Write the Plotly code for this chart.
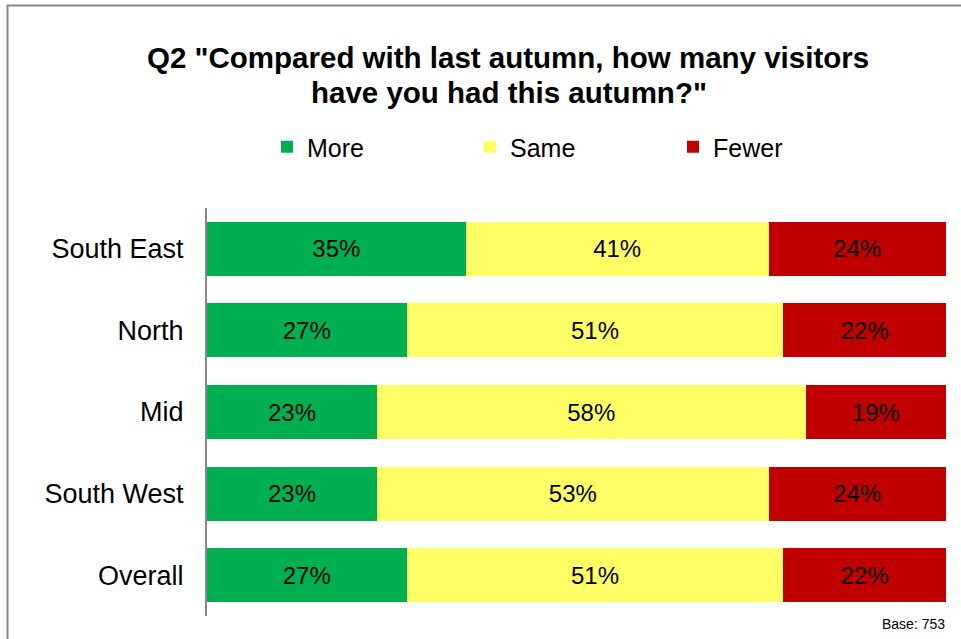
import plotly.graph_objects as go

# Survey results: share of respondents per region (percent)
regions = ["South East", "North", "Mid", "South West", "Overall"]
more = [35, 27, 23, 23, 27]
same = [41, 51, 58, 53, 51]
fewer = [24, 22, 19, 24, 22]

series = [
    ("More", more, "#00B050"),
    ("Same", same, "#FFFF66"),
    ("Fewer", fewer, "#C00000"),
]

FONT = "Liberation Sans, Arial, sans-serif"

fig = go.Figure()
for name, vals, color in series:
    fig.add_trace(go.Bar(
        name=name,
        y=regions,
        x=vals,
        orientation="h",
        marker=dict(color=color, line=dict(width=0)),
        text=[f"{v}%" for v in vals],
        textposition="inside",
        insidetextanchor="middle",
        textangle=0,
        textfont=dict(family=FONT, size=24, color="black"),
        hoverinfo="skip",
    ))

W, H = 961, 639
ml, mr, mt, mb = 207, 15, 208, 23
pw, ph = W - ml - mr, H - mt - mb


def px_x(p):
    return (p - ml) / pw


def px_y(p):
    return (H - mb - p) / ph


fig.update_layout(
    width=W,
    height=H,
    barmode="stack",
    bargap=0.34,
    plot_bgcolor="white",
    paper_bgcolor="white",
    margin=dict(l=ml, r=mr, t=mt, b=mb),
    showlegend=True,
    legend=dict(
        orientation="h",
        x=px_x(267),
        xanchor="left",
        y=px_y(147),
        yanchor="middle",
        entrywidth=158,
        entrywidthmode="pixels",
        font=dict(family=FONT, size=25, color="black"),
        traceorder="normal",
        itemclick=False,
    ),
    xaxis=dict(
        range=[0, 100],
        showgrid=False,
        zeroline=False,
        showticklabels=False,
        showline=False,
        fixedrange=True,
    ),
    yaxis=dict(
        categoryorder="array",
        categoryarray=regions,
        autorange="reversed",
        showgrid=False,
        zeroline=False,
        showline=True,
        linecolor="#888888",
        linewidth=2,
        ticks="",
        ticklabelstandoff=16,
        tickfont=dict(family=FONT, size=27, color="black"),
        fixedrange=True,
    ),
    annotations=[
        dict(text='<b>Q2 "Compared with last autumn, how many visitors</b>',
             xref="paper", yref="paper", x=px_x(508), y=px_y(57),
             xanchor="center", yanchor="middle", showarrow=False,
             font=dict(family=FONT, size=29.5, color="black")),
        dict(text='<b>have you had this autumn?"</b>',
             xref="paper", yref="paper", x=px_x(509), y=px_y(93),
             xanchor="center", yanchor="middle", showarrow=False,
             font=dict(family=FONT, size=29.5, color="black")),
        dict(text="Base: 753",
             xref="paper", yref="paper", x=px_x(947), y=px_y(624),
             xanchor="right", yanchor="middle", showarrow=False,
             font=dict(family=FONT, size=14, color="black")),
    ],
    shapes=[
        dict(type="rect", xref="paper", yref="paper",
             x0=px_x(7.5), x1=px_x(W + 20), y0=px_y(H + 20), y1=px_y(5.5),
             line=dict(color="#888888", width=2), fillcolor="rgba(0,0,0,0)",
             layer="above"),
    ],
)

fig.write_html("out.html")
